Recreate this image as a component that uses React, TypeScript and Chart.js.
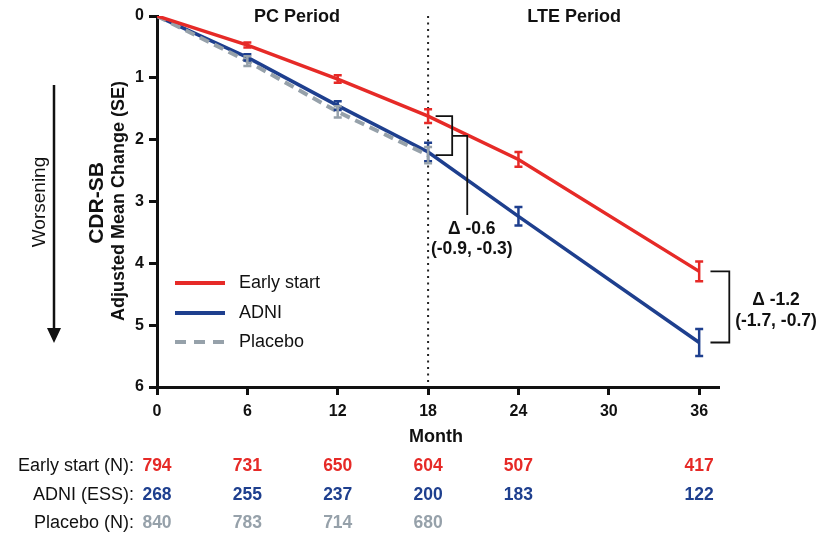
import React, { useEffect, useRef } from "react";
import { Chart, registerables } from "chart.js";
Chart.register(...registerables);

// ---- data ----
const months = [0, 6, 12, 18, 24, 36];
const earlyStart = [0, 0.47, 1.02, 1.62, 2.32, 4.13];
const earlyStartSE = [0, 0.04, 0.06, 0.11, 0.12, 0.16];
const adni = [0, 0.67, 1.45, 2.2, 3.24, 5.28];
const adniSE = [0, 0.05, 0.07, 0.15, 0.15, 0.22];
const placeboMonths = [0, 6, 12, 18];
const placebo = [0, 0.73, 1.55, 2.25];
const placeboSE = [0, 0.08, 0.09, 0.13];

const xTicks = [0, 6, 12, 18, 24, 30, 36];
const seriesNames = ["Early start", "ADNI", "Placebo"];
const rowLabels = ["Early start (N):", "ADNI (ESS):", "Placebo (N):"];
const earlyStartN = [794, 731, 650, 604, 507, 417];
const adniESS = [268, 255, 237, 200, 183, 122];
const placeboN = [840, 783, 714, 680];

const periodLabels = ["PC Period", "LTE Period"];
const periodCenters = [9.3, 27.7];
const deltaPC = ["Δ -0.6", "(-0.9, -0.3)"];
const deltaLTE = ["Δ -1.2", "(-1.7, -0.7)"];

const RED = "#E62A27";
const BLUE = "#1E3F8E";
const GRAY = "#96A1AA";
const FONT = '"Liberation Sans", Arial, Helvetica, sans-serif';

const overlay = {
  id: "overlay",
  beforeDatasetsDraw(chart: any) {
    const { ctx, scales } = chart;
    const x = scales.x, y = scales.y;
    ctx.save();
    ctx.strokeStyle = "#222";
    ctx.lineWidth = 2;
    ctx.setLineDash([2, 4.5]);
    ctx.beginPath();
    ctx.moveTo(x.getPixelForValue(18), y.getPixelForValue(0));
    ctx.lineTo(x.getPixelForValue(18), y.getPixelForValue(6) - 2);
    ctx.stroke();
    ctx.restore();
  },
  afterDatasetsDraw(chart: any) {
    const { ctx, scales } = chart;
    const x = scales.x, y = scales.y;
    ctx.save();
    const bars = (mx: number[], v: number[], se: number[], col: string) => {
      ctx.strokeStyle = col;
      ctx.lineWidth = 2.5;
      for (let i = 1; i < mx.length; i++) {
        const px = x.getPixelForValue(mx[i]);
        const y1 = y.getPixelForValue(v[i] - se[i]);
        const y2 = y.getPixelForValue(v[i] + se[i]);
        ctx.beginPath();
        ctx.moveTo(px, y1); ctx.lineTo(px, y2);
        ctx.moveTo(px - 4, y1); ctx.lineTo(px + 4, y1);
        ctx.moveTo(px - 4, y2); ctx.lineTo(px + 4, y2);
        ctx.stroke();
      }
    };
    bars(months, adni, adniSE, BLUE);
    bars(placeboMonths, placebo, placeboSE, GRAY);
    bars(months, earlyStart, earlyStartSE, RED);

    // brackets
    ctx.strokeStyle = "#111";
    ctx.lineWidth = 1.8;
    const X = (v: number) => x.getPixelForValue(v);
    const Y = (v: number) => y.getPixelForValue(v);
    ctx.beginPath();
    ctx.moveTo(X(18.5), Y(earlyStart[3]));
    ctx.lineTo(X(19.6), Y(earlyStart[3]));
    ctx.lineTo(X(19.6), Y(placebo[3]));
    ctx.lineTo(X(18.5), Y(placebo[3]));
    ctx.moveTo(X(19.6), Y(1.94));
    ctx.lineTo(X(20.6), Y(1.94));
    ctx.lineTo(X(20.6), Y(3.22));
    ctx.stroke();

    ctx.beginPath();
    ctx.moveTo(X(36.75), Y(earlyStart[5]));
    ctx.lineTo(X(38.0), Y(earlyStart[5]));
    ctx.lineTo(X(38.0), Y(adni[5]));
    ctx.lineTo(X(36.75), Y(adni[5]));
    ctx.stroke();
    ctx.restore();
  },
  afterDraw(chart: any) {
    const { ctx, scales } = chart;
    const x = scales.x, y = scales.y;
    const X = (v: number) => x.getPixelForValue(v);
    const Y = (v: number) => y.getPixelForValue(v);
    ctx.save();
    ctx.textBaseline = "middle";
    ctx.textAlign = "center";
    ctx.fillStyle = "#111";

    // period labels
    ctx.font = `bold 18px ${FONT}`;
    periodLabels.forEach((t, i) => ctx.fillText(t, X(periodCenters[i]), Y(0) + 1));

    // month title
    ctx.fillText("Month", 436, 437);

    // delta labels
    ctx.font = `bold 17.5px ${FONT}`;
    ctx.fillText(deltaPC[0], X(20.9), 229);
    ctx.fillText(deltaPC[1], X(20.9), 249);
    ctx.fillText(deltaLTE[0], X(41.1), 300);
    ctx.fillText(deltaLTE[1], X(41.1), 321);

    // legend
    const legCols = [RED, BLUE, GRAY];
    const legY = [283, 313, 342];
    legCols.forEach((c, i) => {
      ctx.strokeStyle = c;
      ctx.lineWidth = 4;
      ctx.setLineDash(i === 2 ? [11, 8] : []);
      ctx.beginPath();
      ctx.moveTo(175, legY[i]);
      ctx.lineTo(225, legY[i]);
      ctx.stroke();
      ctx.setLineDash([]);
      ctx.fillStyle = "#111";
      ctx.textAlign = "left";
      ctx.font = `18px ${FONT}`;
      ctx.fillText(seriesNames[i], 239, legY[i]);
    });

    // y-axis titles
    ctx.textAlign = "center";
    ctx.save();
    ctx.translate(97, 203);
    ctx.rotate(-Math.PI / 2);
    ctx.font = `bold 21px ${FONT}`;
    ctx.fillText("CDR-SB", 0, 0);
    ctx.restore();
    ctx.save();
    ctx.translate(119, 201);
    ctx.rotate(-Math.PI / 2);
    ctx.font = `bold 18px ${FONT}`;
    ctx.fillText("Adjusted Mean Change (SE)", 0, 0);
    ctx.restore();
    ctx.save();
    ctx.translate(40, 202);
    ctx.rotate(-Math.PI / 2);
    ctx.font = `19px ${FONT}`;
    ctx.fillText("Worsening", 0, 0);
    ctx.restore();

    // arrow
    ctx.strokeStyle = "#111";
    ctx.lineWidth = 2.5;
    ctx.beginPath();
    ctx.moveTo(54, 85);
    ctx.lineTo(54, 330);
    ctx.stroke();
    ctx.fillStyle = "#111";
    ctx.beginPath();
    ctx.moveTo(47, 328);
    ctx.lineTo(61, 328);
    ctx.lineTo(54, 343);
    ctx.closePath();
    ctx.fill();

    // number-at-risk table
    const rowY = [466, 495, 523];
    ctx.font = `18px ${FONT}`;
    ctx.textAlign = "right";
    ctx.fillStyle = "#111";
    rowLabels.forEach((t, i) => ctx.fillText(t, 134, rowY[i]));
    ctx.textAlign = "center";
    ctx.font = `bold 17.5px ${FONT}`;
    const rows: [number[], number[], string][] = [
      [months, earlyStartN, RED],
      [months, adniESS, BLUE],
      [placeboMonths, placeboN, GRAY],
    ];
    rows.forEach(([mx, vals, col], r) => {
      ctx.fillStyle = col;
      vals.forEach((v, i) => ctx.fillText(String(v), X(mx[i]), rowY[r]));
    });
    ctx.restore();
  },
};

export default function App() {
  const ref = useRef<HTMLCanvasElement | null>(null);
  useEffect(() => {
    if (!ref.current) return;
    const pts = (mx: number[], v: number[]) => mx.map((m, i) => ({ x: m, y: v[i] }));
    const chart = new Chart(ref.current, {
      type: "line",
      data: {
        datasets: [
          {
            label: seriesNames[0],
            data: pts(months, earlyStart),
            borderColor: RED,
            borderWidth: 3.5,
            pointRadius: 0,
            tension: 0,
          },
          {
            label: seriesNames[2],
            data: pts(placeboMonths, placebo),
            borderColor: GRAY,
            borderWidth: 4,
            borderDash: [10, 6],
            pointRadius: 0,
            tension: 0,
          },
          {
            label: seriesNames[1],
            data: pts(months, adni),
            borderColor: BLUE,
            borderWidth: 3.5,
            pointRadius: 0,
            tension: 0,
          },
        ],
      },
      options: {
        animation: false,
        responsive: false,
        devicePixelRatio: 1,
        layout: { padding: { left: 117, right: 120, top: 16, bottom: 118 } },
        plugins: { legend: { display: false }, tooltip: { enabled: false } },
        scales: {
          x: {
            type: "linear",
            min: 0,
            max: 37.25,
            afterBuildTicks: (s: any) => {
              s.ticks = xTicks.map((v) => ({ value: v }));
            },
            afterFit: (s: any) => {
              s.height = 30;
            },
            grid: {
              drawOnChartArea: false,
              drawTicks: true,
              tickLength: 8,
              lineWidth: 3,
              color: "#111",
            },
            border: { display: true, width: 3, color: "#111" },
            ticks: {
              padding: 7,
              color: "#111",
              font: { family: FONT, size: 16, weight: "bold" },
              maxRotation: 0,
            },
          },
          y: {
            type: "linear",
            min: 0,
            max: 6,
            reverse: true,
            afterFit: (s: any) => {
              s.width = 40;
            },
            grid: {
              drawOnChartArea: false,
              drawTicks: true,
              tickLength: 8,
              lineWidth: 3,
              color: "#111",
            },
            border: { display: true, width: 3, color: "#111" },
            ticks: {
              stepSize: 1,
              padding: 5,
              color: "#111",
              font: { family: FONT, size: 16, weight: "bold" },
            },
          },
        },
      },
      plugins: [overlay],
    } as any);
    return () => chart.destroy();
  }, []);
  return (
    <div style={{ position: "absolute", left: 0, top: 0, width: 838, height: 535, background: "#fff" }}>
      <canvas ref={ref} width={838} height={535} style={{ display: "block" }} />
    </div>
  );
}
